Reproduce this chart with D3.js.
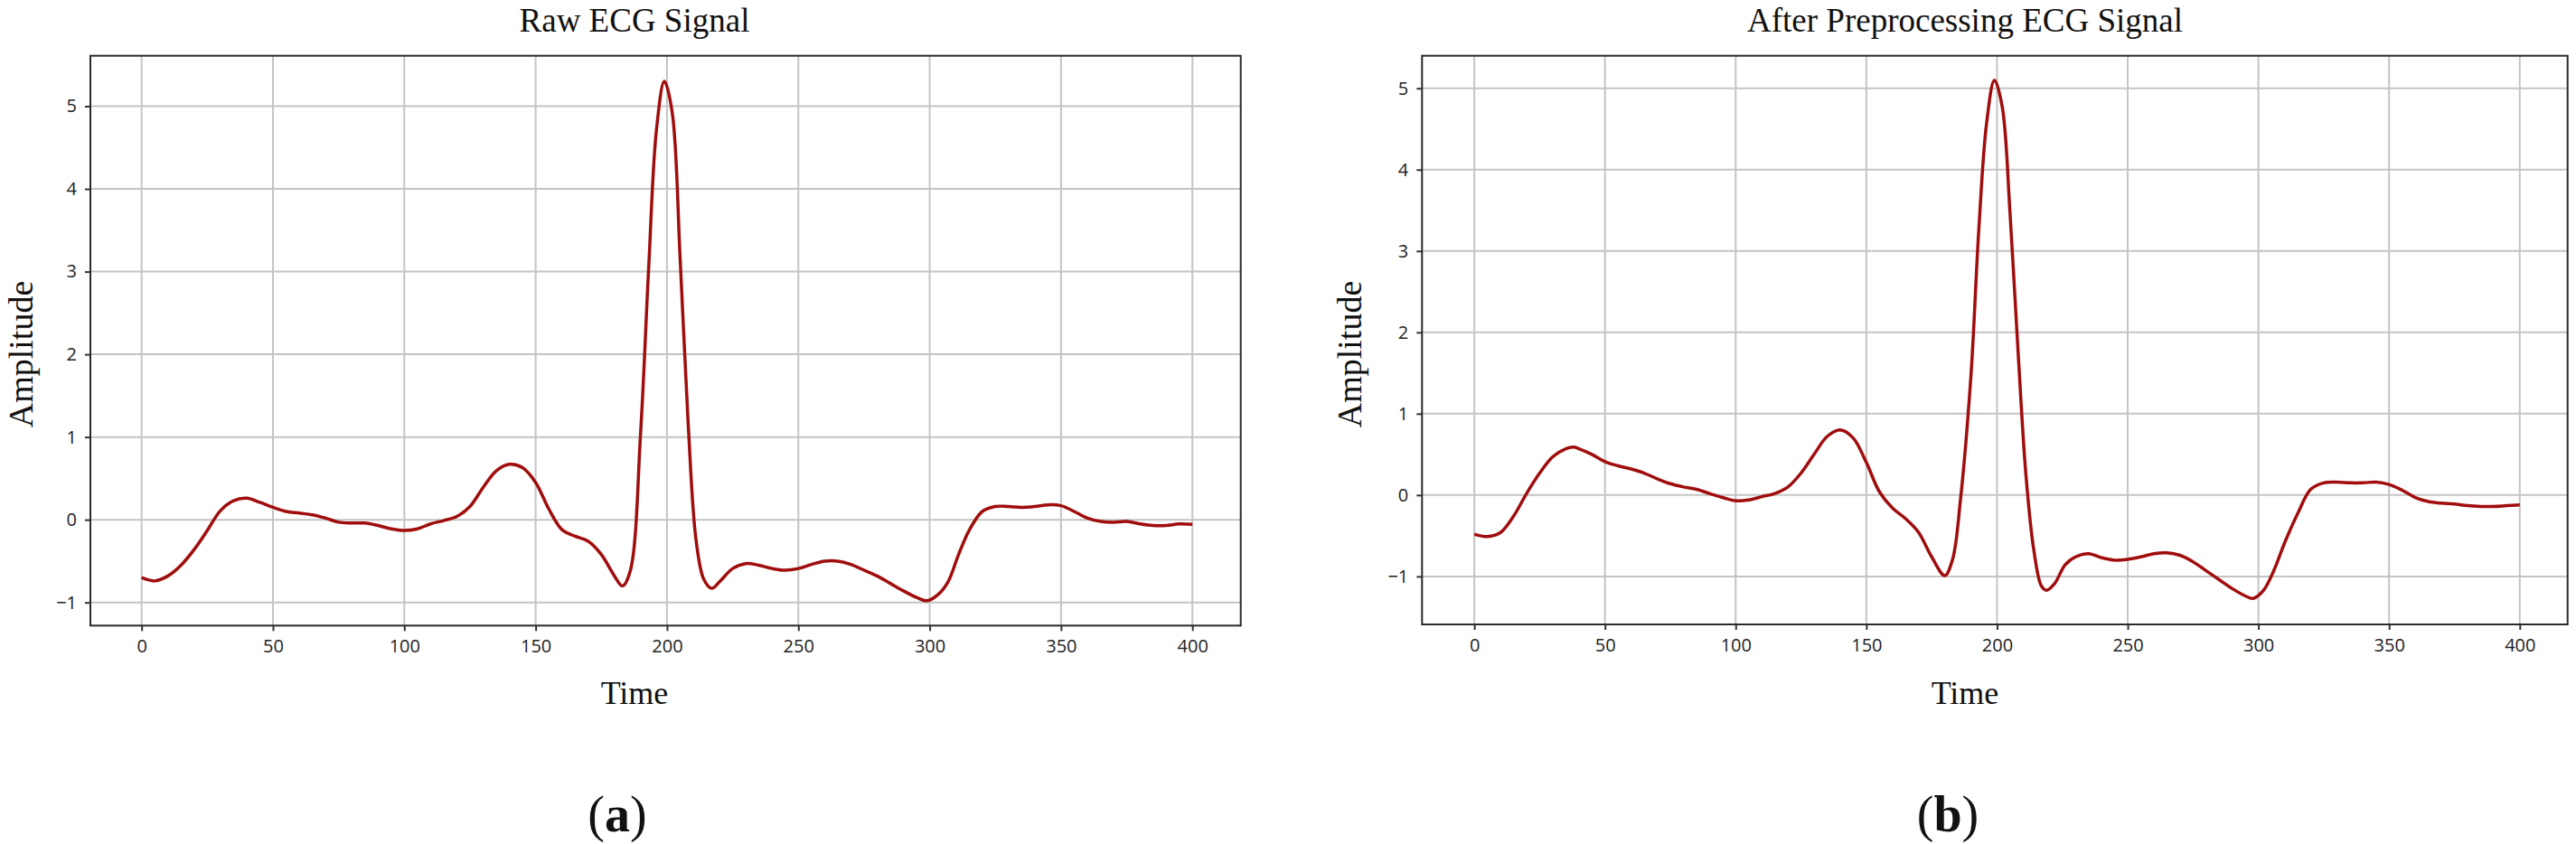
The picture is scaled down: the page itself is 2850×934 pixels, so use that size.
<!DOCTYPE html>
<html>
<head>
<meta charset="utf-8">
<script src="https://cdn.jsdelivr.net/npm/d3@7"></script>
<style>
  body { margin: 0; background: #fff; }
  .tick text { font-family: "Open Sans", sans-serif; font-size: 20px; fill: #222; }
  .serif { font-family: "Liberation Serif", "Times New Roman", serif; fill: #111; }
</style>
</head>
<body>
<script>
// Values
const timeRaw = [0,5,10,15,20,25,30,35,40,45,50,55,60,65,70,75,80,85,90,95,100,105,110,115,120,125,130,135,140,145,150,155,160,165,170,175,180,183,186,190,193,196,199,202,205,208,211,214,217,220,225,230,235,240,245,250,255,260,265,270,275,280,285,290,295,299,303,307,311,315,320,325,330,335,340,345,350,355,360,365,370,375,380,385,390,395,400];
const ampRaw = [-0.70,-0.74,-0.68,-0.55,-0.36,-0.13,0.11,0.23,0.26,0.21,0.15,0.10,0.08,0.06,0.02,-0.03,-0.04,-0.04,-0.07,-0.11,-0.13,-0.11,-0.05,-0.01,0.04,0.16,0.39,0.59,0.67,0.63,0.45,0.13,-0.12,-0.20,-0.26,-0.42,-0.68,-0.80,-0.62,1.08,3.03,4.72,5.30,4.92,3.16,1.20,-0.23,-0.72,-0.83,-0.75,-0.59,-0.53,-0.55,-0.59,-0.61,-0.59,-0.54,-0.50,-0.50,-0.54,-0.61,-0.68,-0.77,-0.86,-0.94,-0.98,-0.91,-0.75,-0.42,-0.13,0.10,0.16,0.16,0.15,0.16,0.18,0.17,0.10,0.02,-0.02,-0.03,-0.02,-0.05,-0.07,-0.07,-0.05,-0.055];

const timeProc = [0,5,10,15,20,25,30,35,38,40,45,50,55,60,65,70,75,80,85,90,95,100,105,110,115,120,125,130,135,140,145,150,155,160,165,170,175,180,183,186,190,193,196,199,202,205,208,211,214,217,219,222,226,230,235,240,245,250,255,260,265,270,275,280,285,290,295,298,302,306,310,315,320,325,330,335,340,345,350,355,360,365,370,375,380,385,390,395,400];
const ampProc = [-0.48,-0.51,-0.46,-0.26,0.02,0.27,0.47,0.57,0.59,0.57,0.50,0.41,0.36,0.32,0.27,0.20,0.14,0.10,0.07,0.02,-0.03,-0.07,-0.06,-0.02,0.02,0.10,0.27,0.50,0.72,0.80,0.70,0.40,0.04,-0.16,-0.29,-0.46,-0.76,-0.99,-0.79,-0.06,1.46,3.25,4.57,5.10,4.77,3.45,1.79,0.27,-0.66,-1.12,-1.17,-1.09,-0.86,-0.76,-0.72,-0.77,-0.80,-0.79,-0.76,-0.72,-0.71,-0.74,-0.82,-0.93,-1.04,-1.15,-1.24,-1.27,-1.17,-0.92,-0.59,-0.23,0.07,0.15,0.16,0.15,0.15,0.16,0.13,0.06,-0.03,-0.08,-0.10,-0.11,-0.13,-0.14,-0.14,-0.13,-0.12];

const xTicks = [0,50,100,150,200,250,300,350,400];
const yTicks = [-1,0,1,2,3,4,5];
const titles = ["Raw ECG Signal", "After Preprocessing ECG Signal"];
const panelTags = ["a", "b"];

var svg = d3.select("body").append("svg")
    .attr("width", 2850)
    .attr("height", 934);

svg.append("rect").attr("width", 2850).attr("height", 934).attr("fill", "#fff");

// one panel = frame box + domains
function drawPanel(box, xDom, yDom, xs, ys, title, tag, titleX, ampX) {
    var x = d3.scaleLinear().domain(xDom).range([box.left, box.right]);
    var y = d3.scaleLinear().domain(yDom).range([box.bottom, box.top]);

    // Gridlines
    svg.append("g")
        .selectAll("line.vg").data(xTicks).enter().append("line")
        .attr("x1", d => x(d)).attr("x2", d => x(d))
        .attr("y1", box.top).attr("y2", box.bottom)
        .attr("stroke", "#c4c4c4").attr("stroke-width", 2);
    svg.append("g")
        .selectAll("line.hg").data(yTicks).enter().append("line")
        .attr("y1", d => y(d)).attr("y2", d => y(d))
        .attr("x1", box.left).attr("x2", box.right)
        .attr("stroke", "#c4c4c4").attr("stroke-width", 2);

    // Signal
    var pts = xs.map((t, i) => [t, ys[i]]);
    svg.append("path")
        .datum(pts)
        .attr("fill", "none")
        .attr("stroke", "#a00d0d")
        .attr("stroke-width", 3.5)
        .attr("stroke-linejoin", "round")
        .attr("d", d3.line()
            .curve(d3.curveCatmullRom.alpha(0.5))
            .x(d => x(d[0]))
            .y(d => y(d[1])));

    // Axes
    var fmt = d3.format("d");
    var xAxis = svg.append("g")
        .attr("transform", `translate(0,${box.bottom})`)
        .call(d3.axisBottom(x).tickValues(xTicks).tickFormat(fmt).tickSize(6).tickPadding(10).tickSizeOuter(0));
    var yAxis = svg.append("g")
        .attr("transform", `translate(${box.left},0)`)
        .call(d3.axisLeft(y).tickValues(yTicks).tickFormat(fmt).tickSize(6).tickPadding(9).tickSizeOuter(0));
    [xAxis, yAxis].forEach(a => {
        a.select(".domain").remove();
        a.selectAll(".tick line").attr("stroke", "#333").attr("stroke-width", 2);
    });

    // Frame
    svg.append("rect")
        .attr("x", box.left).attr("y", box.top)
        .attr("width", box.right - box.left)
        .attr("height", box.bottom - box.top)
        .attr("fill", "none")
        .attr("stroke", "#2a2a2a")
        .attr("stroke-width", 2);

    // Texts
    svg.append("text").attr("class", "serif")
        .attr("x", titleX).attr("y", 35)
        .attr("text-anchor", "middle")
        .style("font-size", "37px")
        .text(title);

    svg.append("text").attr("class", "serif")
        .attr("x", titleX).attr("y", 779)
        .attr("text-anchor", "middle")
        .style("font-size", "36px")
        .text("Time");

    svg.append("text").attr("class", "serif")
        .attr("transform", `translate(${ampX},392) rotate(-90)`)
        .attr("text-anchor", "middle")
        .style("font-size", "38px")
        .text("Amplitude");

    var lab = svg.append("text").attr("class", "serif")
        .attr("x", titleX - 19).attr("y", 920)
        .attr("text-anchor", "middle")
        .style("font-size", "56px");
    lab.append("tspan").text("(");
    lab.append("tspan").style("font-weight", "bold").text(tag);
    lab.append("tspan").text(")");
}

drawPanel({left: 100, right: 1372.7, top: 61.7, bottom: 692.3},
    [-19.5, 418.4], [-1.28, 5.61], timeRaw, ampRaw, titles[0], panelTags[0], 702, 36);

drawPanel({left: 1573.3, right: 2840.7, top: 61.7, bottom: 691},
    [-20, 418.3], [-1.59, 5.40], timeProc, ampProc, titles[1], panelTags[1], 2174, 1506);
</script>
</body>
</html>
